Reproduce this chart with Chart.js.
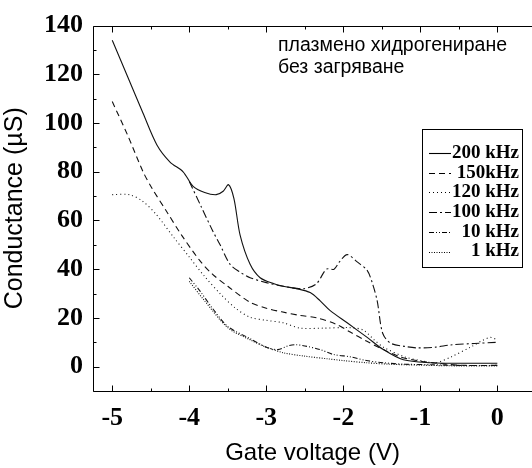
<!DOCTYPE html>
<html>
<head>
<meta charset="utf-8">
<script src="https://cdn.jsdelivr.net/npm/chart.js@4.4.1/dist/chart.umd.min.js"></script>
<style>
  html, body { margin: 0; padding: 0; background: #fff; overflow: hidden; }
  #wrap { width: 532px; height: 468px; }
</style>
</head>
<body>
<div id="wrap"><canvas id="chart" width="532" height="468"></canvas></div>
<script>
// tick labels
const xTicks = [-5, -4, -3, -2, -1, 0];
const yTicks = [0, 20, 40, 60, 80, 100, 120, 140];

// series names (legend order)
const seriesNames = ['200 kHz', '150kHz', '120 kHz', '100 kHz', '10 kHz', '1 kHz'];

// gate voltage (V) / conductance (uS)
const x200 = [-5, -4.8, -4.6, -4.42, -4.25, -4.08, -3.95, -3.8, -3.65, -3.56, -3.49, -3.42, -3.34, -3.21, -3.08, -2.9, -2.78, -2.6, -2.43, -2.3, -2.17, -1.95, -1.69, -1.48, -1.22, -0.87, -0.5, 0];
const y200 = [134, 119, 104, 91, 84, 80, 74, 71.5, 70.6, 72, 74.7, 69, 54, 42, 36.5, 34, 33, 32, 30.4, 27, 23, 18, 12, 7, 2.8, 1.6, 1.4, 1.4];

const x150 = [-5, -4.8, -4.6, -4.48, -4.3, -4.1, -3.86, -3.7, -3.5, -3.21, -3.0, -2.8, -2.56, -2.34, -2.1, -1.91, -1.7, -1.48, -1.26, -1.05, -0.83, -0.5, 0];
const y150 = [108.8, 95, 80, 73, 64, 54, 43.4, 38, 33, 26.4, 24, 22.5, 21, 20, 17.5, 14.2, 10.5, 7, 4, 2.5, 1.6, 0.6, 0.5];

const x120 = [-5, -4.78, -4.61, -4.43, -4.2, -4.0, -3.8, -3.6, -3.4, -3.21, -3.0, -2.78, -2.56, -2.26, -1.91, -1.74, -1.6, -1.48, -1.2, -1.0, -0.8, -0.6, -0.35, -0.1, 0];
const y120 = [70.6, 70.6, 68, 62.5, 53, 45, 37, 30, 24, 20.3, 19, 18, 15.8, 15.8, 16, 15, 11, 8, 4, 2.5, 1.6, 4, 8, 12, 11];

const x100 = [-4.0, -3.85, -3.7, -3.6, -3.47, -3.35, -3.21, -3.0, -2.78, -2.52, -2.35, -2.22, -2.12, -2.05, -1.95, -1.82, -1.69, -1.62, -1.56, -1.49, -1.39, -1.2, -1.04, -0.8, -0.61, -0.3, 0];
const y100 = [76, 66, 56, 50, 42, 39, 36.5, 34.5, 33, 32, 34, 40, 40, 43, 46, 43, 39.5, 34, 27, 13.8, 9.7, 8.3, 7.7, 8, 8.9, 9.5, 10];

const x10 = [-4.0, -3.86, -3.7, -3.5, -3.21, -3.0, -2.85, -2.72, -2.62, -2.5, -2.3, -2.13, -1.9, -1.7, -1.48, -1.2, -0.87, -0.5, 0];
const y10 = [36.5, 31, 24, 16.5, 11.5, 8, 7, 8.5, 9, 8.5, 7, 5, 4, 2.5, 1.6, 1, 0.8, 0.5, 0.5];

const x1 = [-4.0, -3.8, -3.5, -3.21, -3.0, -2.78, -2.5, -2.2, -2.0, -1.7, -1.4, -1.0, -0.5, 0];
const y1 = [35, 27, 16, 11, 8, 5.7, 4.3, 3.2, 2.5, 1.6, 1, 0.6, 0.3, 0.3];

const noteLines = ['плазмено хидрогениране', 'без загряване'];

function pts(xs, ys) {
    return xs.map((x, i) => ({ x: x, y: ys[i] }));
}

const dashes = [[], [6, 4], [1, 3], [8, 3, 2, 3], [5, 2, 1, 2, 1, 2], [1, 1.5]];
const allX = [x200, x150, x120, x100, x10, x1];
const allY = [y200, y150, y120, y100, y10, y1];

const datasets = seriesNames.map((name, i) => ({
    label: name,
    data: pts(allX[i], allY[i]),
    borderColor: '#111',
    borderWidth: 1.1,
    borderDash: dashes[i],
    pointRadius: 0,
    tension: 0.3,
    fill: false
}));

const serif = '"Liberation Serif", "Times New Roman", serif';
const sans = '"Liberation Sans", Arial, sans-serif';

const framePlugin = {
    id: 'frame',
    afterDraw(chart) {
        const { ctx, chartArea: a, scales: { x, y } } = chart;
        const L = Math.round(a.left) + 0.5, T = Math.round(a.top) + 0.5, B = Math.round(a.bottom) + 0.5;
        ctx.save();
        ctx.strokeStyle = '#000';
        ctx.lineWidth = 1;
        ctx.setLineDash([]);
        ctx.beginPath();
        ctx.moveTo(a.right, T); ctx.lineTo(L, T); ctx.lineTo(L, B); ctx.lineTo(a.right, B);
        // x ticks, inward, bottom and top
        for (let v = -5; v <= 0.001; v += 0.5) {
            const px = Math.round(x.getPixelForValue(v)) + 0.5;
            const len = Math.abs(v % 1) < 0.01 ? 6 : 3;
            ctx.moveTo(px, B); ctx.lineTo(px, B - len);
            ctx.moveTo(px, T); ctx.lineTo(px, T + len);
        }
        // y ticks, inward on left
        for (let v = -10; v <= 140; v += 10) {
            const py = Math.round(y.getPixelForValue(v)) + 0.5;
            const len = v % 20 === 0 ? 6 : 3;
            ctx.moveTo(L, py); ctx.lineTo(L + len, py);
        }
        ctx.stroke();

        // note
        ctx.fillStyle = '#000';
        ctx.font = '19.5px ' + sans;
        ctx.textBaseline = 'middle';
        ctx.textAlign = 'left';
        ctx.fillText(noteLines[0], 278, 46);
        ctx.fillText(noteLines[1], 278, 68);

        // legend box
        const bx = 422.5, by = 129.5, bw = 100, bh = 138;
        ctx.strokeRect(bx, by, bw, bh);
        ctx.font = 'bold 19px ' + serif;
        ctx.textAlign = 'right';
        chart.data.datasets.forEach((ds, i) => {
            const yy = 153 + i * 19.7;
            ctx.beginPath();
            ctx.setLineDash(ds.borderDash);
            ctx.lineWidth = 1.1;
            ctx.moveTo(429, Math.round(yy) + 0.5);
            ctx.lineTo(451, Math.round(yy) + 0.5);
            ctx.stroke();
            ctx.fillText(ds.label, 519, yy);
        });
        ctx.restore();
    }
};

new Chart(document.getElementById('chart'), {
    type: 'line',
    data: { datasets: datasets },
    options: {
        responsive: false,
        animation: false,
        devicePixelRatio: 1,
        layout: { padding: { top: 21, right: 0, bottom: 0, left: 0 } },
        plugins: { legend: { display: false }, tooltip: { enabled: false } },
        scales: {
            x: {
                type: 'linear',
                min: -5.25,
                max: 0.45,
                afterBuildTicks: (s) => { s.ticks = xTicks.map(v => ({ value: v })); },
                afterFit: (s) => { s.height = 77; },
                grid: { display: false, drawTicks: false },
                border: { display: false },
                ticks: {
                    color: '#000',
                    padding: 12,
                    maxRotation: 0,
                    font: { family: serif, size: 26, weight: 'bold' }
                },
                title: {
                    display: true,
                    text: 'Gate voltage (V)',
                    color: '#000',
                    font: { family: sans, size: 24 },
                    padding: { top: 0, bottom: 0 }
                }
            },
            y: {
                type: 'linear',
                min: -10,
                max: 140,
                afterBuildTicks: (s) => { s.ticks = yTicks.map(v => ({ value: v })); },
                afterFit: (s) => { s.width = 93; },
                grid: { display: false, drawTicks: false },
                border: { display: false },
                ticks: {
                    color: '#000',
                    padding: 10,
                    font: { family: serif, size: 26, weight: 'bold' }
                },
                title: {
                    display: true,
                    text: 'Conductance (µS)',
                    color: '#000',
                    font: { family: sans, size: 25 },
                    padding: { top: 0, bottom: 8 }
                }
            }
        }
    },
    plugins: [framePlugin]
});
</script>
</body>
</html>
